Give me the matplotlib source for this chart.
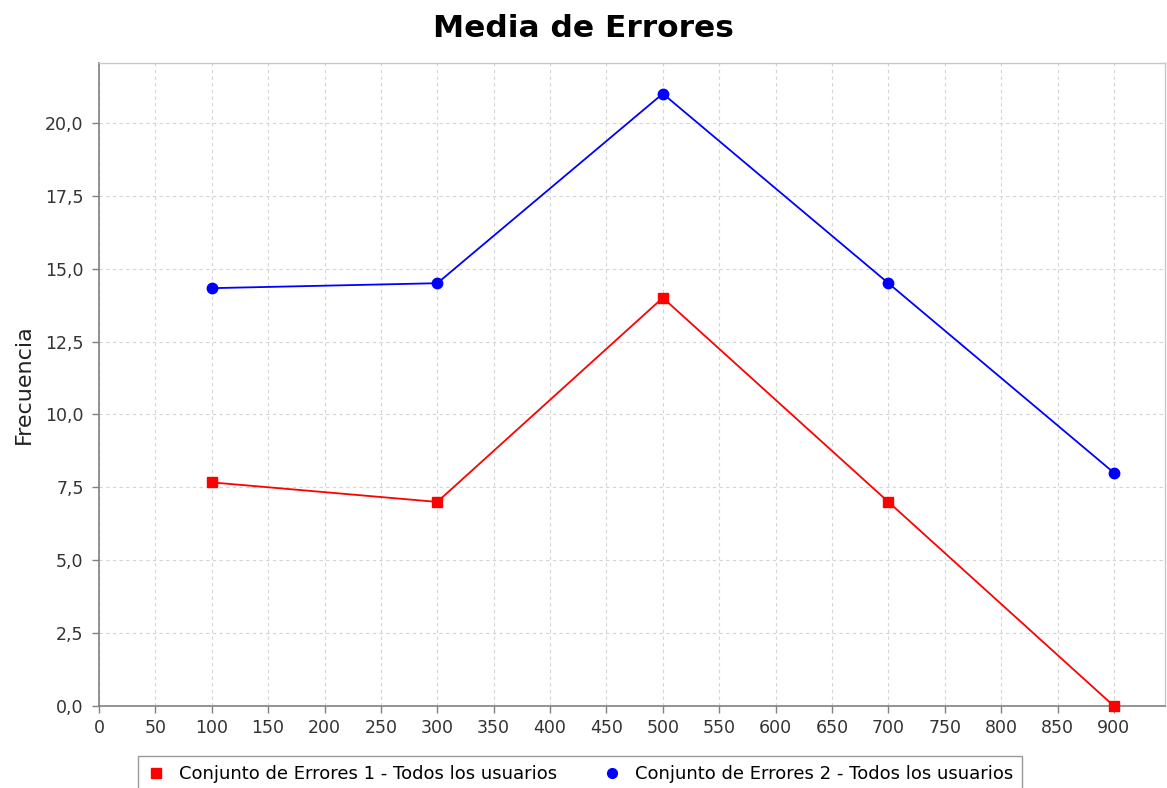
import matplotlib.pyplot as plt
import numpy as np
from matplotlib.ticker import FuncFormatter, MultipleLocator

x_vals = [100, 300, 500, 700, 900]
errores_1 = [7.67, 7.0, 14.0, 7.0, 0.0]
errores_2 = [14.33, 14.5, 21.0, 14.5, 8.0]
nombres = ["Conjunto de Errores 1 - Todos los usuarios",
           "Conjunto de Errores 2 - Todos los usuarios"]

plt.rcParams['font.family'] = ['DejaVu Sans']

fig = plt.figure(figsize=(11.67, 7.88), dpi=100)
ax = fig.add_axes([0.0848, 0.104, 0.9132, 0.816])

ax.plot(x_vals, errores_1, color="#ff0000", lw=1.3, marker="s", ms=7,
        label=nombres[0], clip_on=False, zorder=3)
ax.plot(x_vals, errores_2, color="#0000ff", lw=1.3, marker="o", ms=7.5,
        label=nombres[1], clip_on=False, zorder=3)

ax.set_xlim(0, 945)
ax.set_ylim(0, 22.05)
ax.xaxis.set_major_locator(MultipleLocator(50))
ax.yaxis.set_major_locator(MultipleLocator(2.5))
ax.yaxis.set_major_formatter(FuncFormatter(lambda v, p: f"{v:.1f}".replace(".", ",")))

ax.grid(True, color="#d4d4d4", linestyle=(0, (3, 3)), lw=0.8)
ax.set_axisbelow(True)
ax.tick_params(axis="both", labelsize=12.5, colors="#808080", labelcolor="#333333",
               length=5, width=1, direction="out")
ax.tick_params(axis="y", pad=6)
ax.tick_params(axis="x", pad=4)

for s in ["left", "bottom"]:
    ax.spines[s].set_color("#808080")
    ax.spines[s].set_linewidth(1.2)
for s in ["top", "right"]:
    ax.spines[s].set_color("#c8c8c8")
    ax.spines[s].set_linewidth(1.0)

ax.set_ylabel("Frecuencia", fontsize=16, color="#222222", labelpad=8)

fig.text(0.5, 0.964, "Media de Errores", ha="center", va="center",
         fontsize=22.5, fontweight="bold", family="DejaVu Sans")

leg = fig.legend(loc="lower center", bbox_to_anchor=(0.497, -0.017), ncol=2,
                 fontsize=13, frameon=True, fancybox=False, edgecolor="#808080",
                 handlelength=1.0, handletextpad=0.8, columnspacing=2.5,
                 borderpad=0.5)
leg.get_frame().set_linewidth(1.0)
for line in leg.get_lines():
    line.set_linestyle("")
    line.set_markersize(7)

fig.savefig("out.png", dpi=100)
